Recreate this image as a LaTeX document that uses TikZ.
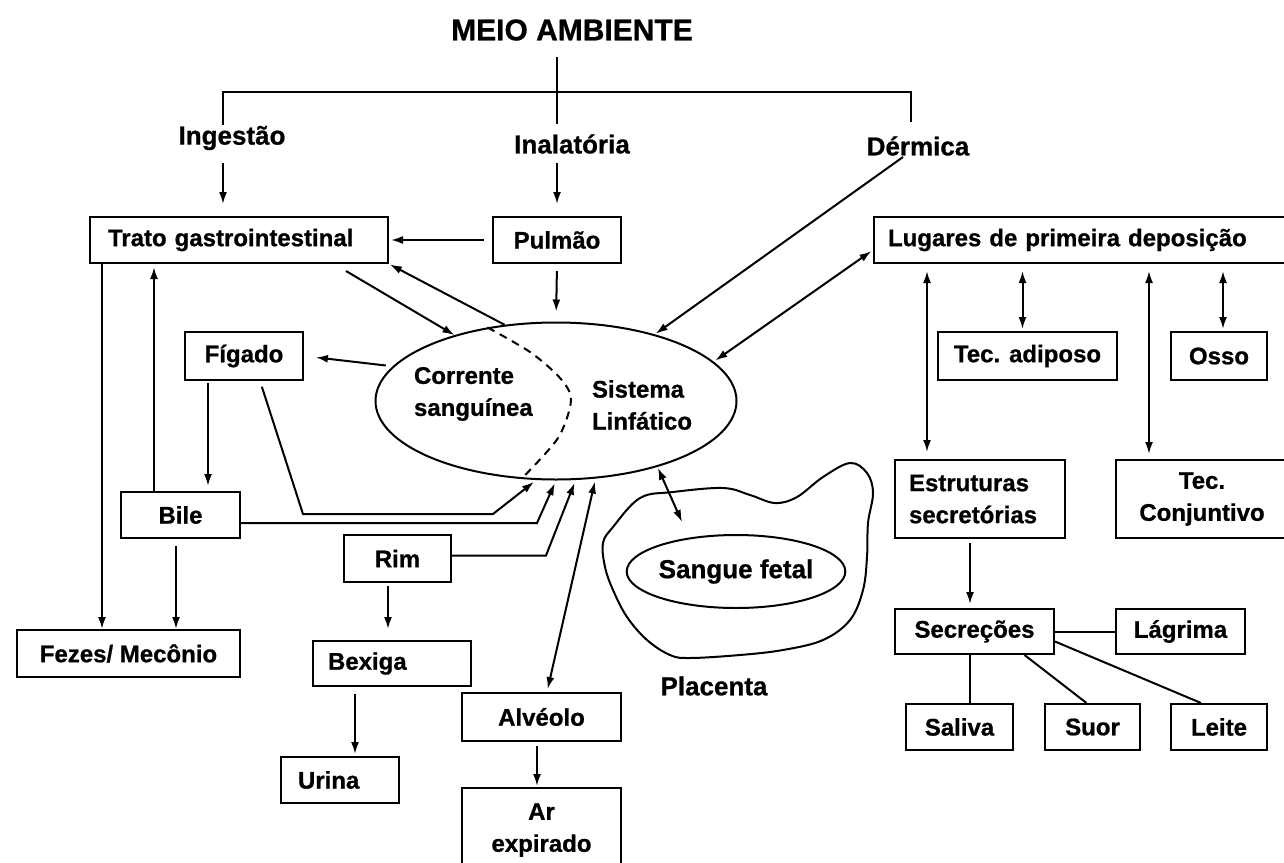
\documentclass[tikz,border=0pt]{standalone}
\usepackage{fontspec}
\setmainfont{Liberation Sans}[BoldFeatures={FakeBold=0.8}]
\usetikzlibrary{arrows.meta}
\usetikzlibrary{shapes.geometric}

\newcommand{\boxfnt}{\fontsize{24}{32}\selectfont\bfseries}
\newcommand{\lblfnt}{\fontsize{26}{32}\selectfont\bfseries}
\newcommand{\ttlfnt}{\fontsize{30}{36}\selectfont\bfseries}

\begin{document}
\begin{tikzpicture}[x=1pt, y=-1pt, line width=2pt,
    box/.style={draw, fill=white, inner sep=0pt, font=\boxfnt, align=center},
    lbox/.style={box, align=left, inner xsep=15pt},
    lbl/.style={inner sep=0pt, font=\lblfnt},
    arr/.style={-{Latex[length=12pt, width=8pt]}},
    darr/.style={{Latex[length=12pt, width=8pt]}-{Latex[length=12pt, width=8pt]}}]
      \useasboundingbox (0,0) rectangle (1284,862);
      \fill[white] (0,0) rectangle (1284,862);

      \node[inner sep=0pt, font=\ttlfnt] (meio) at (572,30) {MEIO AMBIENTE};
      \node[lbl] (ing) at (232,138) {Ingestão};
      \node[lbl] (inal) at (572,144) {Inalatória};
      \node[lbl] (derm) at (918,146) {Dérmica};

      \node[lbox, text width=262pt, inner xsep=18pt, minimum height=46pt] (trato) at (239,240) {Trato gastrointestinal};
      \node[box, minimum width=128pt, minimum height=46pt] (pulmao) at (557,240) {Pulmão};
      \node[lbox, text width=386pt, inner xsep=14pt, minimum height=46pt] (lug) at (1081,240) {Lugares de primeira deposição};

      \node[box, minimum width=118pt, minimum height=48pt] (fig) at (244,356) {Fígado};
      \node[box, minimum width=179pt, minimum height=48pt] (adip) at (1027.5,356) {Tec. adiposo};
      \node[box, minimum width=96pt, minimum height=48pt] (osso) at (1219,356) {Osso};

      \node[ellipse, draw, inner sep=0pt, minimum width=361pt, minimum height=157pt] (sis) at (556,401) {};
      \node[inner sep=0pt, font=\boxfnt, align=left, anchor=west] (corr) at (413,394) {Corrente\\sanguínea};
      \node[inner sep=0pt, font=\boxfnt, align=left, anchor=west] (linf) at (591,405) {Sistema\\Linfático};

      \node[box, minimum width=119pt, minimum height=46pt] (bile) at (180.5,515) {Bile};
      \node[lbox, text width=142pt, inner xsep=14pt, minimum height=78pt] (estrut) at (980,499) {Estruturas\\secretórias};
      \node[box, minimum width=172pt, minimum height=78pt] (conj) at (1202,499) {Tec.\\Conjuntivo};

      \node[box, minimum width=107pt, minimum height=47pt] (rim) at (397.5,558.5) {Rim};
      \node[box, minimum width=223pt, minimum height=47pt] (fezes) at (128.5,653.5) {Fezes/ Mecônio};
      \node[lbox, text width=128pt, inner xsep=15pt, minimum height=45pt] (bexiga) at (392,663.5) {Bexiga};
      \node[lbox, text width=84pt, inner xsep=17pt, minimum height=46pt] (urina) at (340,780) {Urina};
      \node[box, minimum width=159pt, minimum height=48pt] (alveolo) at (541.5,717) {Alvéolo};
      \node[box, minimum width=159pt, minimum height=84pt] (arexp) at (541.5,830) {Ar\\expirado};

      \node[box, minimum width=159pt, minimum height=45pt] (secrec) at (974.5,631.5) {Secreções};
      \node[box, minimum width=129pt, minimum height=45pt] (lagrima) at (1180.5,631.5) {Lágrima};
      \node[box, minimum width=107pt, minimum height=46pt] (saliva) at (959.5,727) {Saliva};
      \node[box, minimum width=95pt, minimum height=46pt] (suor) at (1092.5,727) {Suor};
      \node[box, minimum width=96pt, minimum height=46pt] (leite) at (1219,727) {Leite};

      \draw plot[smooth cycle, tension=0.6] coordinates {(613,527) (640,498) (673,492) (723,488) (750,495) (775,503) (797,497) (823,477) (850,463) (867,473) (873,493) (868,523) (867,557) (863,590) (850,620) (823,640) (783,650) (740,655) (690,658) (670,655) (647,640) (627,617) (613,590) (605,567) (603,543)};
      \node[ellipse, draw, inner sep=0pt, minimum width=208pt, minimum height=73pt, font=\lblfnt] (fetal) at (736,571.5) {Sangue fetal};
      \node[lbl] (placlbl) at (714,686) {Placenta};
      \coordinate (plac) at (682,522);

      \draw[dash pattern=on 8pt off 6pt] plot[smooth] coordinates {(sis.133) (530,352) (560,378) (571,400) (558,438) (sis.246)};

      \draw ([xshift=-15pt,yshift=-27pt]meio.center) -- ([xshift=-15pt,yshift=20pt]inal.center);
      \draw ([xshift=-9pt,yshift=13pt]ing.center) -- ++(0,-33) -| ([xshift=-7pt,yshift=24pt]derm.center);

      \draw[arr, shorten >=12pt] ([xshift=-9pt,yshift=-25pt]ing.center) -- ([xshift=-16pt]trato.north);
      \draw[arr, shorten >=12pt] ([xshift=-15pt,yshift=-19pt]inal.center) -- (pulmao.north);
      \draw[arr, shorten >=1pt] ([xshift=-15pt,yshift=-11pt]derm.center) -- (sis.34);

      \draw[arr, shorten <=8pt, shorten >=2pt] (pulmao.west) -- (trato.east);
      \draw[arr, shorten <=7pt, shorten >=10pt] (pulmao.south) -- (sis.north);
      \draw[arr] ([xshift=107pt,yshift=-7pt]trato.south) -- (sis.147);
      \draw[arr, shorten >=1pt] (sis.124) -- (trato.south east);
      \draw[darr, shorten <=2pt, shorten >=2pt] ([yshift=-10pt]lug.west) -- (sis.14);

      \draw[darr, shorten <=7pt, shorten >=7pt] ([xshift=-53pt]estrut.north |- lug.south) -- ([xshift=-53pt]estrut.north);
      \draw[darr, shorten <=7pt, shorten >=2pt] ([xshift=-5pt]adip.north |- lug.south) -- ([xshift=-5pt]adip.north);
      \draw[darr, shorten <=7pt, shorten >=5pt] ([xshift=-53pt]conj.north |- lug.south) -- ([xshift=-53pt]conj.north);
      \draw[darr, shorten <=7pt, shorten >=2pt] ([xshift=4pt]osso.north |- lug.south) -- ([xshift=4pt]osso.north);

      \draw[arr, shorten <=4pt, shorten >=4pt] ([xshift=-10pt]estrut.south) -- ([xshift=-10pt]estrut.south |- secrec.north);
      \draw (secrec.east) -- (lagrima.west);
      \draw ([xshift=-4.5pt]secrec.south) -- ([xshift=-4.5pt]secrec.south |- saliva.north);
      \draw ([xshift=50pt]secrec.south) -- ([xshift=-6pt]suor.north);
      \draw ([yshift=-10pt]secrec.east) -- ([xshift=-18pt]leite.north);

      \draw[arr, shorten <=7pt, shorten >=12pt] (sis.168) -- (fig.east);
      \draw[arr, shorten <=2pt, shorten >=5pt] ([xshift=-36pt]fig.south) -- ([xshift=-36pt]fig.south |- bile.north);
      \draw[arr, shorten <=6pt, shorten >=3pt] ([xshift=16pt]fig.south) -- (303,514) -- (493,514) -- (sis.256);
      \draw[arr, shorten >=3pt] ([xshift=-26.5pt]bile.north) -- ([xshift=-26.5pt]bile.north |- trato.south);
      \draw[arr] ([xshift=-137pt]trato.south) -- ([xshift=-137pt]trato.south |- fezes.north);
      \draw[arr, shorten <=7pt] ([xshift=-4.5pt]bile.south) -- ([xshift=-4.5pt]bile.south |- fezes.north);
      \draw[arr, shorten >=3pt] ([yshift=-8pt]bile.east) -- (537,523) -- (sis.270);
      \draw[arr, shorten >=3pt] ([yshift=3pt]rim.east) -- (546,555.5) -- (sis.284);
      \draw[arr, shorten <=3pt, shorten >=11pt] ([xshift=-9.5pt]rim.south) -- ([xshift=-9.5pt]rim.south |- bexiga.north);
      \draw[arr, shorten <=7pt, shorten >=2pt] ([xshift=-37pt]bexiga.south) -- ([xshift=-37pt]bexiga.south |- urina.north);
      \draw[darr, shorten <=3pt, shorten >=3pt] ([xshift=5.5pt]alveolo.north) -- (sis.297);
      \draw[arr, shorten <=4pt, shorten >=1pt] ([xshift=-4.5pt]alveolo.south) -- ([xshift=-4.5pt]alveolo.south |- arexp.north);
      \draw[darr, shorten <=1pt] (sis.327) -- (plac);
    \end{tikzpicture}
\end{document}
